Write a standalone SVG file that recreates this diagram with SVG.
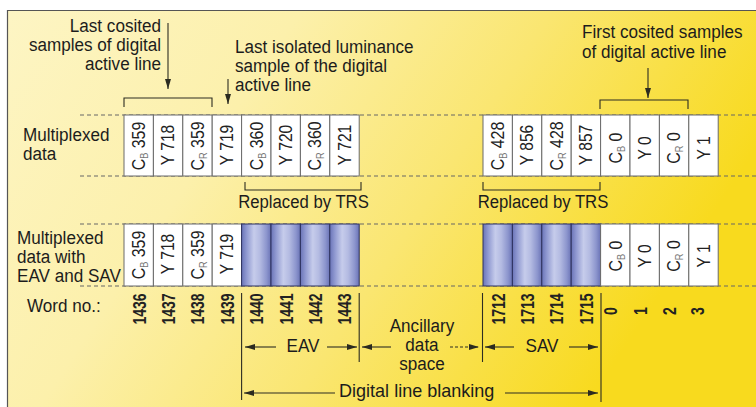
<svg xmlns="http://www.w3.org/2000/svg" width="756" height="407" viewBox="0 0 756 407">
<defs>
<linearGradient id="bg" x1="0" y1="0" x2="1" y2="0.35">
<stop offset="0" stop-color="#fdf5c4"/>
<stop offset="0.35" stop-color="#fcf0ab"/>
<stop offset="0.65" stop-color="#fae671"/>
<stop offset="1" stop-color="#f8da1e"/>
</linearGradient>
<linearGradient id="cyl" x1="0" y1="0" x2="1" y2="0">
<stop offset="0" stop-color="#6a74b8"/>
<stop offset="0.18" stop-color="#929bd2"/>
<stop offset="0.42" stop-color="#c6cceb"/>
<stop offset="0.62" stop-color="#b4bbe2"/>
<stop offset="0.85" stop-color="#8c95cd"/>
<stop offset="1" stop-color="#6a73b6"/>
</linearGradient>
<marker id="ah" viewBox="0 0 10 6" refX="10" refY="3" markerWidth="10" markerHeight="6" markerUnits="userSpaceOnUse" orient="auto">
<path d="M0,0 L10,3 L0,6 z" fill="#2b2b20"/>
</marker>
</defs>
<style>
.t{font-family:"Liberation Sans",Arial,sans-serif;font-size:19px;fill:#1c1c1c}
.bx{font-family:"Liberation Sans",Arial,sans-serif;font-size:19px;fill:#222}
.sub{font-size:11px;fill:#777}
.num{font-family:"Liberation Sans",Arial,sans-serif;font-size:17.5px;font-weight:bold;fill:#222}
.w{fill:#fff;stroke:#6a6a6a;stroke-width:1}
.b{fill:url(#cyl);stroke:#2e3260;stroke-width:1}
.dash{stroke:#666;stroke-width:1;stroke-dasharray:4 3;fill:none}
.ln{stroke:#2d2d22;stroke-width:1.1;fill:none}
.ar{stroke:#2d2d22;stroke-width:1.1;fill:none;marker-end:url(#ah)}
</style>

<rect x="0" y="0" width="756" height="407" fill="#ffffff"/>
<rect x="7" y="10" width="749" height="397" fill="url(#bg)"/>
<path d="M7.5,407 V10.5 H756" fill="none" stroke="#555" stroke-width="1.2"/>

<g id="dashes">
<line class="dash" x1="80" y1="115" x2="756" y2="115"/>
<line class="dash" x1="80" y1="176" x2="756" y2="176"/>
<line class="dash" x1="80" y1="224" x2="756" y2="224"/>
<line class="dash" x1="80" y1="286" x2="756" y2="286"/>
</g>

<g id="row-labels">
<text class="t" transform="translate(23 141) scale(.9 1)"><tspan x="0">Multiplexed</tspan><tspan x="0" dy="19">data</tspan></text>
<text class="t" transform="translate(17 244) scale(.9 1)"><tspan x="0">Multiplexed</tspan><tspan x="0" dy="19">data with</tspan><tspan x="0" dy="19">EAV and SAV</tspan></text>
<text class="t" transform="translate(27 312) scale(.9 1)">Word no.:</text>
</g>

<g id="note-last-cosited">
<text class="t" text-anchor="end" transform="translate(161 32) scale(.9 1)"><tspan x="0">Last cosited</tspan><tspan x="0" dy="19">samples of digital</tspan><tspan x="0" dy="19">active line</tspan></text>
</g>
<g id="note-last-isolated">
<text class="t" transform="translate(235 53) scale(.9 1)"><tspan x="0">Last isolated luminance</tspan><tspan x="0" dy="19">sample of the digital</tspan><tspan x="0" dy="19">active line</tspan></text>
</g>
<g id="note-first-cosited">
<text class="t" transform="translate(582 38) scale(.9 1)"><tspan x="0">First cosited samples</tspan><tspan x="0" dy="20">of digital active line</tspan></text>
</g>

<g id="top-row-left">
<rect class="w" x="124" y="115" width="29.4" height="61"/>
<rect class="w" x="153.4" y="115" width="29.4" height="61"/>
<rect class="w" x="182.8" y="115" width="29.4" height="61"/>
<rect class="w" x="212.2" y="115" width="29.4" height="61"/>
<rect class="w" x="241.6" y="115" width="29.4" height="61"/>
<rect class="w" x="271" y="115" width="29.4" height="61"/>
<rect class="w" x="300.4" y="115" width="29.4" height="61"/>
<rect class="w" x="329.8" y="115" width="29.4" height="61"/>
<text class="bx" text-anchor="middle" transform="translate(145 146) rotate(-90) scale(.84 1)">C<tspan class="sub" dy="3">B</tspan><tspan dy="-3"> 359</tspan></text>
<text class="bx" text-anchor="middle" transform="translate(174.4 145) rotate(-90) scale(.82 1)">Y 718</text>
<text class="bx" text-anchor="middle" transform="translate(203.8 146) rotate(-90) scale(.84 1)">C<tspan class="sub" dy="3">R</tspan><tspan dy="-3"> 359</tspan></text>
<text class="bx" text-anchor="middle" transform="translate(233.2 145) rotate(-90) scale(.82 1)">Y 719</text>
<text class="bx" text-anchor="middle" transform="translate(262.6 146) rotate(-90) scale(.84 1)">C<tspan class="sub" dy="3">B</tspan><tspan dy="-3"> 360</tspan></text>
<text class="bx" text-anchor="middle" transform="translate(292 145) rotate(-90) scale(.82 1)">Y 720</text>
<text class="bx" text-anchor="middle" transform="translate(321.4 146) rotate(-90) scale(.84 1)">C<tspan class="sub" dy="3">R</tspan><tspan dy="-3"> 360</tspan></text>
<text class="bx" text-anchor="middle" transform="translate(350.8 145) rotate(-90) scale(.82 1)">Y 721</text>
</g>

<g id="top-row-right">
<rect class="w" x="483" y="115" width="29.4" height="61"/>
<rect class="w" x="512.4" y="115" width="29.4" height="61"/>
<rect class="w" x="541.8" y="115" width="29.4" height="61"/>
<rect class="w" x="571.2" y="115" width="29.4" height="61"/>
<rect class="w" x="600.6" y="115" width="29.4" height="61"/>
<rect class="w" x="630" y="115" width="29.4" height="61"/>
<rect class="w" x="659.4" y="115" width="29.4" height="61"/>
<rect class="w" x="688.8" y="115" width="29.4" height="61"/>
<text class="bx" text-anchor="middle" transform="translate(504 146) rotate(-90) scale(.84 1)">C<tspan class="sub" dy="3">B</tspan><tspan dy="-3"> 428</tspan></text>
<text class="bx" text-anchor="middle" transform="translate(533.4 145) rotate(-90) scale(.82 1)">Y 856</text>
<text class="bx" text-anchor="middle" transform="translate(562.8 146) rotate(-90) scale(.84 1)">C<tspan class="sub" dy="3">R</tspan><tspan dy="-3"> 428</tspan></text>
<text class="bx" text-anchor="middle" transform="translate(592.2 145) rotate(-90) scale(.82 1)">Y 857</text>
<text class="bx" text-anchor="middle" transform="translate(621.6 148) rotate(-90) scale(.84 1)">C<tspan class="sub" dy="3">B</tspan><tspan dy="-3"> 0</tspan></text>
<text class="bx" text-anchor="middle" transform="translate(651 148) rotate(-90) scale(.82 1)">Y 0</text>
<text class="bx" text-anchor="middle" transform="translate(680.4 148) rotate(-90) scale(.84 1)">C<tspan class="sub" dy="3">R</tspan><tspan dy="-3"> 0</tspan></text>
<text class="bx" text-anchor="middle" transform="translate(709.8 148) rotate(-90) scale(.82 1)">Y 1</text>
</g>

<g id="bottom-row-left">
<rect class="w" x="124" y="224" width="29.4" height="62"/>
<rect class="w" x="153.4" y="224" width="29.4" height="62"/>
<rect class="w" x="182.8" y="224" width="29.4" height="62"/>
<rect class="w" x="212.2" y="224" width="29.4" height="62"/>
<rect class="b" x="241.6" y="224" width="29.4" height="62"/>
<rect class="b" x="271" y="224" width="29.4" height="62"/>
<rect class="b" x="300.4" y="224" width="29.4" height="62"/>
<rect class="b" x="329.8" y="224" width="29.4" height="62"/>
<text class="bx" text-anchor="middle" transform="translate(145 255) rotate(-90) scale(.84 1)">C<tspan class="sub" dy="3">B</tspan><tspan dy="-3"> 359</tspan></text>
<text class="bx" text-anchor="middle" transform="translate(174.4 254) rotate(-90) scale(.82 1)">Y 718</text>
<text class="bx" text-anchor="middle" transform="translate(203.8 255) rotate(-90) scale(.84 1)">C<tspan class="sub" dy="3">R</tspan><tspan dy="-3"> 359</tspan></text>
<text class="bx" text-anchor="middle" transform="translate(233.2 254) rotate(-90) scale(.82 1)">Y 719</text>
</g>

<g id="bottom-row-right">
<rect class="b" x="483" y="224" width="29.4" height="62"/>
<rect class="b" x="512.4" y="224" width="29.4" height="62"/>
<rect class="b" x="541.8" y="224" width="29.4" height="62"/>
<rect class="b" x="571.2" y="224" width="29.4" height="62"/>
<rect class="w" x="600.6" y="224" width="29.4" height="62"/>
<rect class="w" x="630" y="224" width="29.4" height="62"/>
<rect class="w" x="659.4" y="224" width="29.4" height="62"/>
<rect class="w" x="688.8" y="224" width="29.4" height="62"/>
<text class="bx" text-anchor="middle" transform="translate(621.6 256) rotate(-90) scale(.84 1)">C<tspan class="sub" dy="3">B</tspan><tspan dy="-3"> 0</tspan></text>
<text class="bx" text-anchor="middle" transform="translate(651 256) rotate(-90) scale(.82 1)">Y 0</text>
<text class="bx" text-anchor="middle" transform="translate(680.4 256) rotate(-90) scale(.84 1)">C<tspan class="sub" dy="3">R</tspan><tspan dy="-3"> 0</tspan></text>
<text class="bx" text-anchor="middle" transform="translate(709.8 256) rotate(-90) scale(.82 1)">Y 1</text>
</g>

<g id="word-numbers">
<text class="num" text-anchor="middle" transform="translate(145.5 309) rotate(-90) scale(.8 1)">1436</text>
<text class="num" text-anchor="middle" transform="translate(174.9 309) rotate(-90) scale(.8 1)">1437</text>
<text class="num" text-anchor="middle" transform="translate(204.3 309) rotate(-90) scale(.8 1)">1438</text>
<text class="num" text-anchor="middle" transform="translate(233.7 309) rotate(-90) scale(.8 1)">1439</text>
<text class="num" text-anchor="middle" transform="translate(263.1 309) rotate(-90) scale(.8 1)">1440</text>
<text class="num" text-anchor="middle" transform="translate(292.5 309) rotate(-90) scale(.8 1)">1441</text>
<text class="num" text-anchor="middle" transform="translate(321.9 309) rotate(-90) scale(.8 1)">1442</text>
<text class="num" text-anchor="middle" transform="translate(351.3 309) rotate(-90) scale(.8 1)">1443</text>
<text class="num" text-anchor="middle" transform="translate(504.5 309) rotate(-90) scale(.8 1)">1712</text>
<text class="num" text-anchor="middle" transform="translate(533.9 309) rotate(-90) scale(.8 1)">1713</text>
<text class="num" text-anchor="middle" transform="translate(563.3 309) rotate(-90) scale(.8 1)">1714</text>
<text class="num" text-anchor="middle" transform="translate(592.7 309) rotate(-90) scale(.8 1)">1715</text>
<text class="num" text-anchor="middle" transform="translate(617 311) rotate(-90) scale(.8 1)">0</text>
<text class="num" text-anchor="middle" transform="translate(647 311) rotate(-90) scale(.8 1)">1</text>
<text class="num" text-anchor="middle" transform="translate(676 311) rotate(-90) scale(.8 1)">2</text>
<text class="num" text-anchor="middle" transform="translate(704 311) rotate(-90) scale(.8 1)">3</text>
</g>

<g id="span-labels">
<text class="t" text-anchor="middle" transform="translate(303.5 208) scale(.88 1)">Replaced by TRS</text>
<text class="t" text-anchor="middle" transform="translate(543 208) scale(.88 1)">Replaced by TRS</text>
<text class="t" text-anchor="middle" transform="translate(303 352) scale(.9 1)">EAV</text>
<text class="t" text-anchor="middle" transform="translate(542 352) scale(.9 1)">SAV</text>
<text class="t" text-anchor="middle" transform="translate(422 332) scale(.9 1)"><tspan x="0">Ancillary</tspan><tspan x="0" dy="19">data</tspan><tspan x="0" dy="19">space</tspan></text>
<text class="t" transform="translate(339 397) scale(.95 1)">Digital line blanking</text>
</g>

<g id="connectors">
<line class="ar" x1="168" y1="23" x2="168" y2="89"/>
<line class="ar" x1="228" y1="79" x2="228" y2="104"/>
<line class="ar" x1="648" y1="68" x2="648" y2="98"/>
<path class="ln" d="M124,107 V98 H212 V107"/>
<path class="ln" d="M600,109 V100 H688 V109"/>
<path class="ln" d="M245,182 V190 H361 V182"/>
<path class="ln" d="M483,182 V190 H600 V182"/>
<line class="ln" x1="241.6" y1="293" x2="241.6" y2="400"/>
<line class="ln" x1="359.2" y1="293" x2="359.2" y2="362"/>
<line class="ln" x1="482.5" y1="293" x2="482.5" y2="362"/>
<line class="ln" x1="601" y1="293" x2="601" y2="402"/>
<line class="ar" x1="276" y1="347" x2="245" y2="347"/>
<line class="ar" x1="327" y1="347" x2="357" y2="347"/>
<line class="ar" x1="391" y1="347" x2="362" y2="347"/>
<line class="ar" x1="450" y1="347" x2="479" y2="347" stroke-dasharray="3 2"/>
<line class="ar" x1="514" y1="347" x2="485" y2="347"/>
<line class="ar" x1="569" y1="347" x2="598" y2="347"/>
<line class="ar" x1="335" y1="393" x2="244" y2="393"/>
<line class="ar" x1="505" y1="393" x2="598" y2="393"/>
</g>
</svg>
